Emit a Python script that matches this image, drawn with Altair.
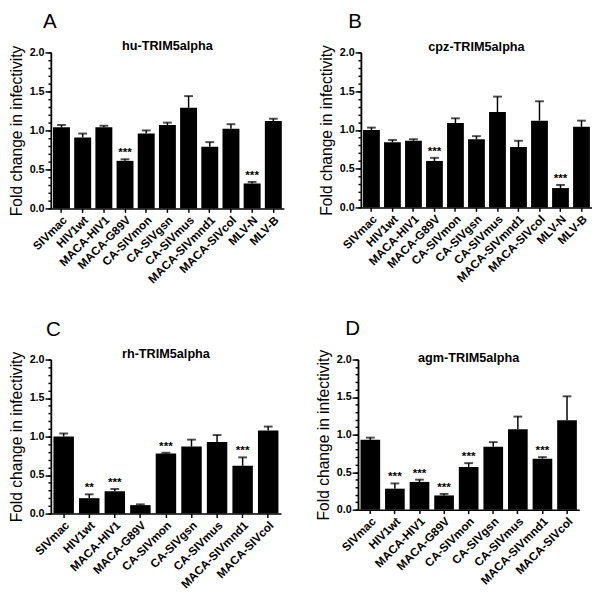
import altair as alt
import pandas as pd

# ---------------- data ----------------
cats_ab = ["SIVmac", "HIV1wt", "MACA-HIV1", "MACA-G89V", "CA-SIVmon", "CA-SIVgsn",
           "CA-SIVmus", "MACA-SIVmnd1", "MACA-SIVcol", "MLV-N", "MLV-B"]
cats_cd = ["SIVmac", "HIV1wt", "MACA-HIV1", "MACA-G89V", "CA-SIVmon", "CA-SIVgsn",
           "CA-SIVmus", "MACA-SIVmnd1", "MACA-SIVcol"]

hu_vals = [1.04, 0.91, 1.04, 0.61, 0.96, 1.07, 1.29, 0.79, 1.02, 0.32, 1.12]
hu_errs = [0.03, 0.05, 0.02, 0.02, 0.04, 0.03, 0.15, 0.06, 0.06, 0.02, 0.03]
hu_stars = ["", "", "", "***", "", "", "", "", "", "***", ""]

cpz_vals = [1.00, 0.84, 0.86, 0.60, 1.09, 0.88, 1.23, 0.78, 1.12, 0.25, 1.04]
cpz_errs = [0.03, 0.03, 0.02, 0.04, 0.06, 0.04, 0.20, 0.08, 0.25, 0.04, 0.08]
cpz_stars = ["", "", "", "***", "", "", "", "", "", "***", ""]

rh_vals = [1.00, 0.20, 0.29, 0.11, 0.78, 0.87, 0.93, 0.62, 1.08]
rh_errs = [0.04, 0.05, 0.03, 0.01, 0.01, 0.09, 0.09, 0.11, 0.05]
rh_stars = ["", "**", "***", "", "***", "", "", "***", ""]

agm_vals = [0.93, 0.28, 0.37, 0.19, 0.57, 0.84, 1.07, 0.68, 1.19]
agm_errs = [0.03, 0.07, 0.03, 0.02, 0.05, 0.06, 0.17, 0.02, 0.32]
agm_stars = ["", "***", "***", "***", "***", "", "", "***", ""]

y_major = [0.0, 0.5, 1.0, 1.5, 2.0]
y_minor = [0.0, 0.1, 0.2, 0.3, 0.4, 0.5, 0.6, 0.7, 0.8, 0.9, 1.0,
           1.1, 1.2, 1.3, 1.4, 1.5, 1.6, 1.7, 1.8, 1.9, 2.0]

FONT = "Liberation Sans"


def panel(letter, title, cats, vals, errs, stars, w, h, lx, ly, ty):
    df = pd.DataFrame({"cat": cats, "val": vals, "err": errs, "star": stars})
    base = alt.Chart(df).transform_calculate(top="datum.val + datum.err")
    x = alt.X("cat:N", sort=cats, title=None,
              scale=alt.Scale(paddingInner=0.2, paddingOuter=0.1),
              axis=alt.Axis(labelAngle=-45, tickSize=4, labelFontSize=12,
                            labelPadding=2))
    yscale = alt.Scale(domain=[0, 2], nice=False)
    y_main = alt.Y("val:Q", scale=yscale,
                   axis=alt.Axis(title="Fold change in infectivity", values=y_major,
                                 format=".1f", orient="left", labelPadding=1,
                                 labelFontSize=11, titlePadding=5, tickSize=6))
    y_min = alt.Y("val:Q", scale=yscale,
                  axis=alt.Axis(title=None, values=y_minor, labels=False,
                                orient="left", tickSize=3))
    bars = base.mark_bar(color="black").encode(x=x, y=y_main)
    err = base.mark_rule(color="black", strokeWidth=1.5).encode(x=x, y=y_min, y2="top:Q")
    cap = base.mark_tick(color="black", thickness=2, size=9).encode(
        x=x, y=alt.Y("top:Q", axis=None))
    txt = base.mark_text(fontWeight="bold", fontSize=12, font=FONT, dy=-3,
                         baseline="alphabetic", color="black").encode(
        x=x, y=alt.Y("top:Q", axis=None), text="star:N")
    lab_df = pd.DataFrame({"letter": [letter], "title": [title]})
    lab = alt.Chart(lab_df).mark_text(
        fontSize=21, font=FONT, align="left", baseline="alphabetic", color="black"
    ).encode(text="letter:N", x=alt.value(lx), y=alt.value(ly))
    ttl = alt.Chart(lab_df).mark_text(
        fontSize=13, font=FONT, fontWeight="bold", align="center",
        baseline="alphabetic", color="black"
    ).encode(text="title:N", x=alt.value(w / 2), y=alt.value(ty))
    return alt.layer(bars, err, cap, txt, lab, ttl).resolve_axis(y="independent").properties(
        width=w, height=h)


pA = panel("A", "hu-TRIM5alpha", cats_ab, hu_vals, hu_errs, hu_stars, 239, 160, -8, -25, -2)
pB = panel("B", "cpz-TRIM5alpha", cats_ab, cpz_vals, cpz_errs, cpz_stars, 237, 159, -13, -25, -1)
pC = panel("C", "rh-TRIM5alpha", cats_cd, rh_vals, rh_errs, rh_stars, 236, 158, -5, -24, -2)
pD = panel("D", "agm-TRIM5alpha", cats_cd, agm_vals, agm_errs, agm_stars, 227, 154, -13, -25, 3)

chart = alt.vconcat(
    alt.hconcat(pA, pB, spacing=35),
    alt.hconcat(pC, pD, spacing=35),
    spacing=34,
).properties(
    padding={"left": 0, "top": -4, "right": 0, "bottom": 0}
).configure_view(stroke=None).configure_axis(
    labelFont=FONT, labelFontWeight="bold", labelColor="black",
    titleFont=FONT, titleFontWeight="normal", titleFontSize=16, titleColor="black",
    domainColor="black", domainWidth=1.5, tickColor="black", tickWidth=1.5, grid=False
)

chart.save("out.html", embed_options={"renderer": "svg", "actions": False})
